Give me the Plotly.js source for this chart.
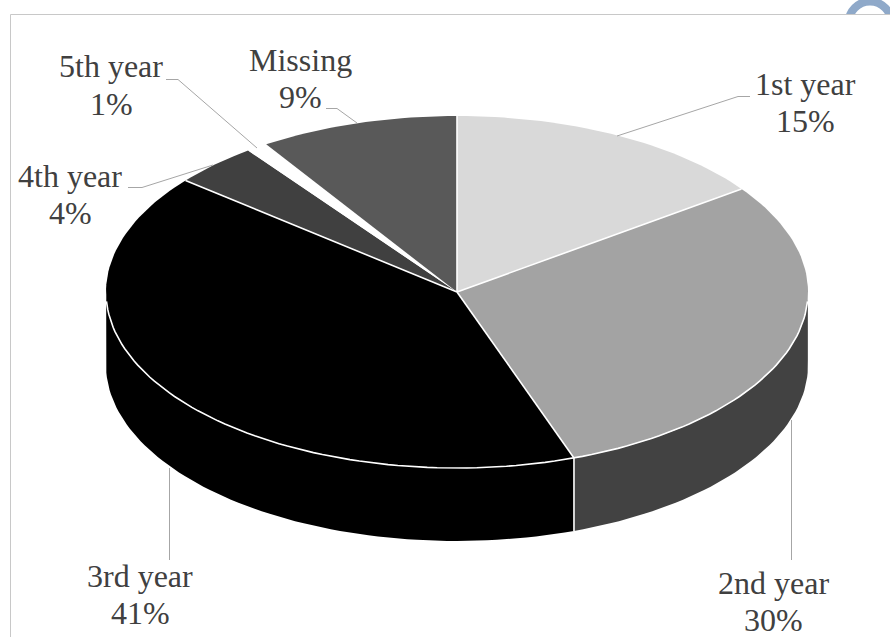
<!DOCTYPE html>
<html>
<head>
<meta charset="utf-8">
<script src="https://cdn.plot.ly/plotly-3.0.0.min.js"></script>
<style>html,body{margin:0;padding:0;background:#fff}#chart{width:890px;height:637px}</style>
</head>
<body>
<div id="chart"></div>
<script>
// Enrolment share by year of study
const categories = ['1st year', '2nd year', '3rd year', '4th year', '5th year', 'Missing'];
const shares = [15, 30, 41, 4, 1, 9];
const topColors = ['#d9d9d9', '#a3a3a3', '#000000', '#404040', '#ffffff', '#595959'];
const wallColors = ['#c0c0c0', '#424242', '#000000', '#2a2a2a', '#ffffff', '#404040'];

// Label anchors: [x, first-line y, second-line y]
const labelAnchors = [
  [805, 84, 121], [773, 583, 620], [140, 576, 613],
  [70, 176, 213], [111, 66, 104], [300, 60, 97]
];
// Leader polylines from each label to its slice
const leaderX = [[617, 738, 750], [791.5, 791.5], [169.5, 169.5], [213, 142, 128], [257, 178, 166], [357, 337, 326]];
const leaderY = [[136, 96.5, 96.5], [420, 560], [468, 560], [165, 187.5, 187.5], [148, 79.5, 79.5], [123, 108.5, 108.5]];

// Projected pie geometry on the page-sized axes
const cx = 457, cy = 292, rx = 351, ry = 176, depth = 73;
const toRad = d => d * Math.PI / 180;
// Small angular skew that stands in for the perspective of the tilted view
const view = a => a - 1.7 * Math.sin(toRad(a)) + 1.6 * Math.sin(toRad(2 * a));
const px = a => cx + rx * Math.sin(toRad(view(a)));
const py = (a, dz) => cy - ry * Math.cos(toRad(view(a))) + (dz || 0);

function arc(a0, a1, dz) {
  const n = Math.max(2, Math.ceil(Math.abs(a1 - a0) / 1.5));
  const xs = [], ys = [];
  for (let i = 0; i <= n; i++) {
    const a = a0 + (a1 - a0) * i / n;
    xs.push(px(a)); ys.push(py(a, dz));
  }
  return [xs, ys];
}

const total = shares.reduce((s, v) => s + v, 0);
let running = 0;
const spans = shares.map(v => {
  const a0 = running / total * 360;
  running += v;
  return [a0, running / total * 360];
});

const white = {color: '#ffffff', width: 1.6};
const traces = [];

// Side walls: only the front half of the rim (90 to 270 degrees) is visible
spans.forEach((s, i) => {
  const a0 = Math.max(s[0], 90), a1 = Math.min(s[1], 270);
  if (a1 <= a0) return;
  const [tx, ty] = arc(a0, a1, 0);
  const [bx, by] = arc(a1, a0, depth);
  traces.push({
    x: tx.concat(bx), y: ty.concat(by), mode: 'lines', fill: 'toself',
    fillcolor: wallColors[i], line: {width: 0, color: wallColors[i]}, hoverinfo: 'skip'
  });
});

// Top face slices
spans.forEach((s, i) => {
  const [ax, ay] = arc(s[0], s[1], 0);
  traces.push({
    x: [cx].concat(ax, [cx]), y: [cy].concat(ay, [cy]), mode: 'lines', fill: 'toself',
    fillcolor: topColors[i], line: {width: 0, color: topColors[i]},
    name: categories[i], text: shares[i] + '%', hoverinfo: 'name+text'
  });
});

// Seam on the wall, white rim along the front and radial dividers
spans.forEach(s => {
  if (s[1] > 90 && s[1] < 270) {
    traces.push({x: [px(s[1]), px(s[1])], y: [py(s[1], 0), py(s[1], depth)], mode: 'lines', line: white, hoverinfo: 'skip'});
  }
});
const [rimX, rimY] = arc(95, 265, 0);
traces.push({x: rimX, y: rimY, mode: 'lines', line: white, hoverinfo: 'skip'});
spans.forEach((s, i) => {
  // The white slice needs no divider on either side
  if (topColors[i] === '#ffffff' || topColors[(i + 1) % spans.length] === '#ffffff') return;
  traces.push({x: [cx, px(s[1])], y: [cy, py(s[1], 0)], mode: 'lines', line: white, hoverinfo: 'skip'});
});

// Leader lines
categories.forEach((c, i) => {
  traces.push({
    x: leaderX[i], y: leaderY[i], mode: 'lines',
    line: {color: '#a6a6a6', width: 1}, hoverinfo: 'skip'
  });
});

// Labels
const labelFont = {family: '"Liberation Serif", serif', size: 32, color: '#404040'};
const annotations = [];
categories.forEach((c, i) => {
  const [x, y1, y2] = labelAnchors[i];
  annotations.push({x: x, y: y1, text: c, showarrow: false, font: labelFont, xanchor: 'center', yanchor: 'middle'});
  annotations.push({x: x, y: y2, text: shares[i] + '%', showarrow: false, font: labelFont, xanchor: 'center', yanchor: 'middle'});
});

const layout = {
  width: 890, height: 637,
  margin: {l: 0, r: 0, t: 0, b: 0},
  paper_bgcolor: '#ffffff', plot_bgcolor: '#ffffff',
  showlegend: false,
  xaxis: {range: [0, 890], visible: false, fixedrange: true},
  yaxis: {range: [637, 0], visible: false, fixedrange: true},
  annotations: annotations,
  shapes: [
    // Ring in the top-right corner, showing only above the frame
    {type: 'circle', x0: 848.5, x1: 891.5, y0: 1.5, y1: 44.5, line: {color: '#8fa9c9', width: 8}, layer: 'below'},
    {type: 'rect', x0: 830, x1: 890, y0: 14.5, y1: 60, line: {width: 0}, fillcolor: '#ffffff', layer: 'below'},
    // Chart frame, open at the right and bottom edges
    {type: 'line', x0: 10.5, x1: 890, y0: 14.5, y1: 14.5, line: {color: '#c8c8c8', width: 1}, layer: 'below'},
    {type: 'line', x0: 10.5, x1: 10.5, y0: 14.5, y1: 637, line: {color: '#c8c8c8', width: 1}, layer: 'below'}
  ]
};

Plotly.newPlot('chart', traces, layout, {displayModeBar: false, staticPlot: true});
</script>
</body>
</html>
